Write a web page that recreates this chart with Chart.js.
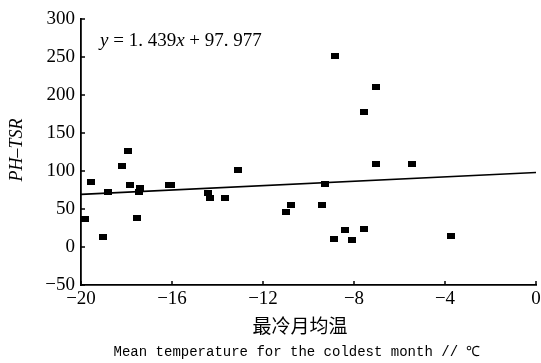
<!DOCTYPE html>
<html>
<head>
<meta charset="utf-8">
<script src="https://cdn.jsdelivr.net/npm/chart.js@4.4.0/dist/chart.umd.min.js"></script>
<style>
  html, body { margin: 0; padding: 0; background: #fff; }
</style>
</head>
<body>
<canvas id="c" width="541" height="363"></canvas>
<script>
// data
const tempX = [-19.84, -19.57, -19.03, -18.81, -18.2, -17.93, -17.86, -17.52, -17.42, -17.45,
    -16.13, -16.05, -14.42, -14.34, -13.68, -13.1, -10.97, -10.78,
    -8.85, -7.02, -7.56, -7.05, -5.45, -9.26, -9.39, -8.41, -7.56, -8.88, -8.09, -3.72];
const phTsr = [37, 85, 13, 73, 106, 126, 81, 38, 78, 73,
    82, 82, 71, 64, 64, 101, 46, 55,
    251, 211, 177, 109, 109, 83, 55, 22, 24, 10, 9, 15];
const fitX = [-20, 0];
const fitY = [69.2, 97.98];
const xTicks = [-20, -16, -12, -8, -4, 0];
const yTicks = [-50, 0, 50, 100, 150, 200, 250, 300];

const SERIF = '"Liberation Serif", "DejaVu Serif", serif';

// small filled rectangle marker
const marker = document.createElement('canvas');
marker.width = 8; marker.height = 6;
const mctx = marker.getContext('2d');
mctx.fillStyle = '#000';
mctx.fillRect(0, 0, 8, 6);

const minus = v => String(v).replace('-', '\u2212');

const decor = {
    id: 'decor',
    afterDraw(chart) {
        const ctx = chart.ctx;
        const xs = chart.scales.x, ys = chart.scales.y;
        const area = chart.chartArea;
        ctx.save();
        ctx.strokeStyle = '#000';
        ctx.lineWidth = 1.5;
        // inward ticks
        xTicks.forEach(v => {
            const px = xs.getPixelForValue(v);
            ctx.beginPath(); ctx.moveTo(px, area.bottom); ctx.lineTo(px, area.bottom - 4); ctx.stroke();
        });
        yTicks.forEach(v => {
            const py = ys.getPixelForValue(v);
            ctx.beginPath(); ctx.moveTo(area.left, py); ctx.lineTo(area.left + 4, py); ctx.stroke();
        });

        ctx.fillStyle = '#000';
        // equation
        ctx.textBaseline = 'middle';
        ctx.textAlign = 'left';
        let x = 100;
        const y = 41;
        const parts = [['y', true], [' = 1. 439', false], ['x', true], [' + 97. 977', false]];
        parts.forEach(p => {
            ctx.font = (p[1] ? 'italic ' : '') + '19px ' + SERIF;
            ctx.fillText(p[0], x, y);
            x += ctx.measureText(p[0]).width;
        });

        // y title
        ctx.save();
        ctx.translate(17, 150);
        ctx.rotate(-Math.PI / 2);
        ctx.textAlign = 'center';
        ctx.font = 'italic 18px ' + SERIF;
        ctx.fillText('PH\u2013TSR', 0, 0);
        ctx.restore();

        // x titles
        ctx.textAlign = 'center';
        ctx.font = '19px "Noto Sans CJK SC", sans-serif';
        ctx.fillText('最冷月均温', 300, 326);
        ctx.font = '14px "Liberation Mono", "DejaVu Sans Mono", monospace';
        ctx.fillText('Mean temperature for the coldest month // \u2103', 297, 352);
        ctx.restore();
    }
};

new Chart(document.getElementById('c'), {
    type: 'scatter',
    data: {
        datasets: [{
            data: tempX.map((v, i) => ({ x: v, y: phTsr[i] })),
            pointStyle: marker,
            backgroundColor: '#000',
            borderColor: '#000'
        }, {
            type: 'line',
            data: fitX.map((v, i) => ({ x: v, y: fitY[i] })),
            borderColor: '#000',
            borderWidth: 1.6,
            pointRadius: 0,
            fill: false
        }]
    },
    options: {
        responsive: false,
        animation: false,
        devicePixelRatio: 1,
        layout: { padding: { top: 19, right: 4, left: 0, bottom: 0 } },
        plugins: { legend: { display: false }, tooltip: { enabled: false } },
        scales: {
            x: {
                type: 'linear', min: -20, max: 0,
                afterBuildTicks: s => { s.ticks = xTicks.map(v => ({ value: v })); },
                afterFit: s => { s.height = 78; s.paddingRight = 0; },
                grid: { display: false, drawTicks: false },
                border: { display: true, color: '#000', width: 1.8 },
                ticks: { color: '#000', padding: 3, font: { family: SERIF, size: 19 }, callback: v => minus(v) }
            },
            y: {
                type: 'linear', min: -50, max: 300,
                afterBuildTicks: s => { s.ticks = yTicks.map(v => ({ value: v })); },
                afterFit: s => { s.width = 81; },
                grid: { display: false, drawTicks: false },
                border: { display: true, color: '#000', width: 1.8 },
                ticks: { color: '#000', padding: 6, font: { family: SERIF, size: 19 }, callback: v => minus(v) }
            }
        }
    },
    plugins: [decor]
});
</script>
</body>
</html>
